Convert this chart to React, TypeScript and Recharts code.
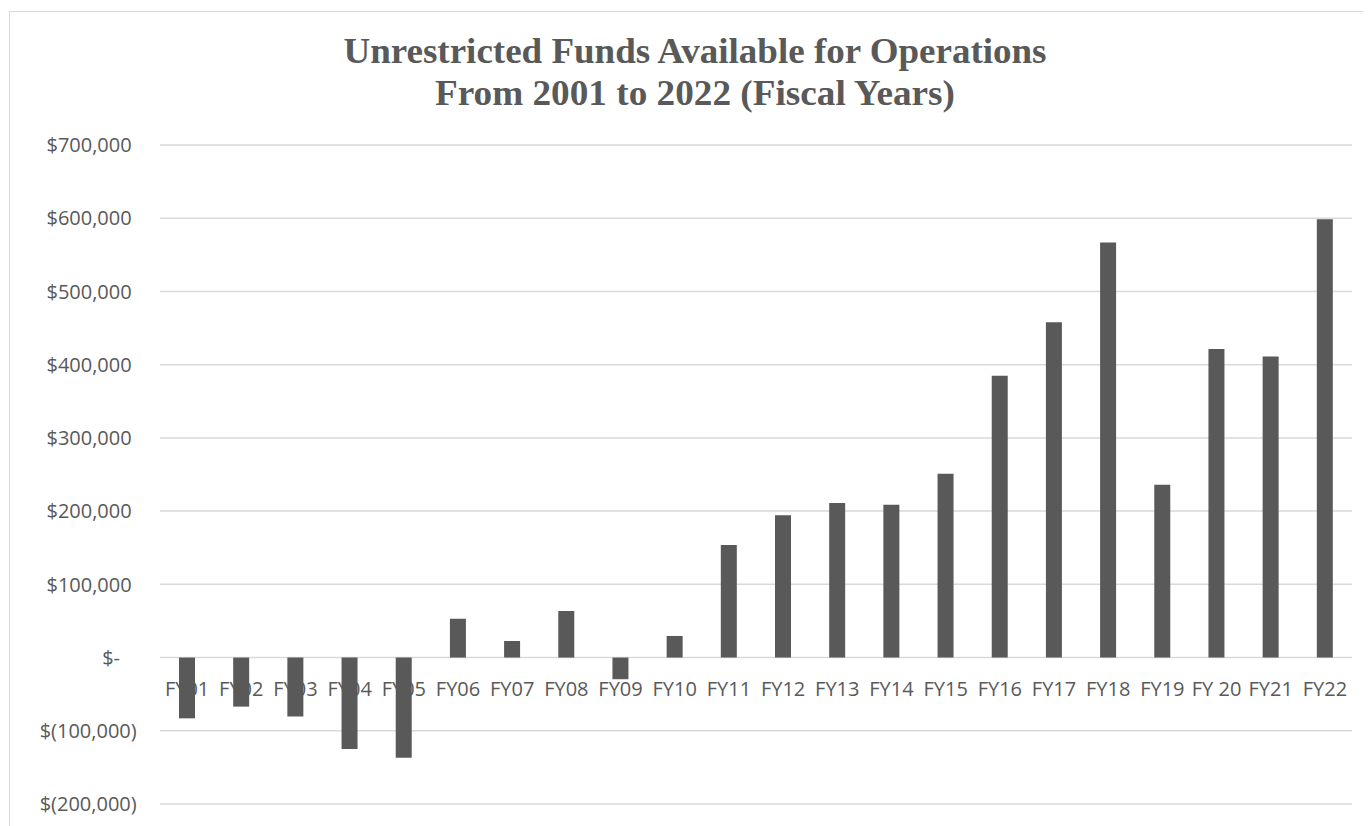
import React from 'react';
import { BarChart, Bar, XAxis, YAxis, CartesianGrid } from 'recharts';

const categories = ['FY01', 'FY02', 'FY03', 'FY04', 'FY05', 'FY06', 'FY07', 'FY08', 'FY09', 'FY10', 'FY11', 'FY12', 'FY13', 'FY14', 'FY15', 'FY16', 'FY17', 'FY18', 'FY19', 'FY 20', 'FY21', 'FY22'];
const funds = [-83000, -67000, -80500, -125000, -137000, 53000, 22600, 63600, -29600, 29500, 153600, 194500, 211000, 208700, 251000, 385000, 458000, 567000, 236000, 421500, 411000, 598500];
const yTicks = [-200000, -100000, 0, 100000, 200000, 300000, 400000, 500000, 600000, 700000];
const titleLines = ['Unrestricted Funds Available for Operations', 'From 2001 to 2022 (Fiscal Years)'];

const data = categories.map((c, i) => ({ name: c, value: funds[i] }));

const CHART_W = 1363;
const CHART_H = 818;
const X_AXIS_H = 16;
const MARGIN = { top: 137, right: 19, bottom: 6, left: 12 };
const Y_AXIS_W = 140;
const Y_MIN = yTicks[0];
const Y_MAX = yTicks[yTicks.length - 1];
const PLOT_H = CHART_H - MARGIN.top - MARGIN.bottom - X_AXIS_H;
const ZERO_Y = MARGIN.top + (PLOT_H * Y_MAX) / (Y_MAX - Y_MIN);

const AXIS_FONT = "'Open Sans', 'Noto Sans', sans-serif";
const TEXT_COLOR = '#595959';

const fmt = (v: number) => {
  if (v === 0) return '$-';
  const s = Math.abs(v).toLocaleString('en-US');
  return v < 0 ? `$(${s})` : `$${s}`;
};

const YTick = (props: any) => {
  const { y, payload } = props;
  const v = payload.value;
  const right = v === 0 ? 112 : v < 0 ? 128.7 : 123.7;
  return (
    <text x={right} y={y} dy="0.36em" textAnchor="end" fontFamily={AXIS_FONT} fontSize={20} fill={TEXT_COLOR}>
      {fmt(v)}
    </text>
  );
};

const XTick = (props: any) => {
  const { x, payload } = props;
  return (
    <text x={x} y={ZERO_Y + 38.8} textAnchor="middle" fontFamily={AXIS_FONT} fontSize={20} fill={TEXT_COLOR}>
      {payload.value}
    </text>
  );
};

export default function App() {
  return (
    <>
      <style>{`body{overflow:hidden;}`}</style>
      <div style={{ position: 'relative', width: CHART_W, height: CHART_H }}>
        <div
          style={{
            position: 'absolute',
            left: 1,
            top: 3,
            width: 1363,
            height: 900,
            border: '1px solid #d9d9d9',
            boxSizing: 'border-box',
            background: '#ffffff',
          }}
        />
        <div style={{ position: 'absolute', left: 0, top: 0 }}>
          <BarChart width={CHART_W} height={CHART_H} data={data} margin={MARGIN}>
            <CartesianGrid vertical={false} stroke="#d9d9d9" strokeWidth={1.5} />
            <XAxis
              dataKey="name"
              height={X_AXIS_H}
              axisLine={false}
              tickLine={false}
              interval={0}
              tick={<XTick />}
            />
            <YAxis
              width={Y_AXIS_W}
              domain={[Y_MIN, Y_MAX]}
              ticks={yTicks}
              interval={0}
              axisLine={false}
              tickLine={false}
              tick={<YTick />}
            />
            <Bar dataKey="value" fill="#595959" barSize={16} isAnimationActive={false} />
          </BarChart>
        </div>
        <svg width={CHART_W} height={130} style={{ position: 'absolute', left: 0, top: 0, pointerEvents: 'none' }}>
          <text
            x={687}
            y={55.3}
            textAnchor="middle"
            fontFamily="'Liberation Serif', 'Times New Roman', serif"
            fontWeight="bold"
            fontSize={35}
            fill={TEXT_COLOR}
            textLength={703}
            lengthAdjust="spacingAndGlyphs"
          >
            {titleLines[0]}
          </text>
          <text
            x={687}
            y={97}
            textAnchor="middle"
            fontFamily="'Liberation Serif', 'Times New Roman', serif"
            fontWeight="bold"
            fontSize={35}
            fill={TEXT_COLOR}
            textLength={520}
            lengthAdjust="spacingAndGlyphs"
          >
            {titleLines[1]}
          </text>
        </svg>
      </div>
    </>
  );
}
